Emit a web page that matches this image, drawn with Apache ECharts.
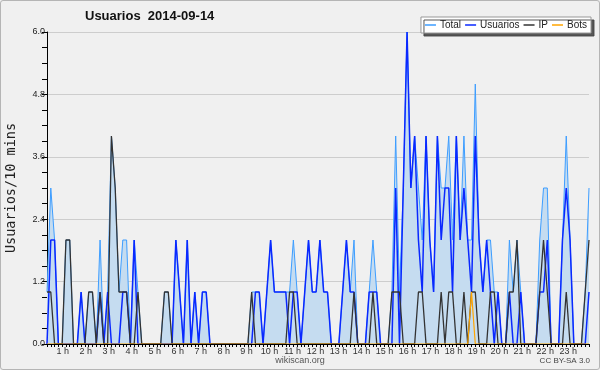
<!DOCTYPE html>
<html><head><meta charset="utf-8">
<script src="https://cdn.jsdelivr.net/npm/echarts@6/dist/echarts.min.js"></script>
<style>
html,body{margin:0;padding:0;background:#f0f0f0;}
#c{width:600px;height:370px;}
#frame{position:absolute;left:0;top:0;width:600px;height:370px;box-sizing:border-box;border:1px solid #b5b5b5;border-radius:3px;pointer-events:none;}
</style></head><body>
<div id="c"></div><div id="frame"></div>
<script>
// 10-minute slots of 2014-09-14
const times = [];
for (let h = 0; h < 24; h++) for (let m = 0; m < 60; m += 10)
  times.push(String(h).padStart(2, '0') + ':' + String(m).padStart(2, '0'));

const hourTicks = [1,2,3,4,5,6,7,8,9,10,11,12,13,14,15,16,17,18,19,20,21,22,23];

const total = [
  1,3,2,0,0,2,2,0,0,1,
  0,1,1,0,2,0,1,4,3,1,
  2,2,0,2,1,0,0,0,0,0,
  0,1,1,0,2,1,0,2,0,1,
  0,1,1,0,0,0,0,0,0,0,
  0,0,0,0,1,1,1,0,1,2,
  1,1,1,1,1,2,1,0,1,2,
  1,1,2,1,1,0,0,0,1,2,
  1,2,0,0,0,1,2,1,0,0,
  0,1,4,1,3,6,3,4,3,2,
  4,2,1,4,3,3,4,2,4,2,
  4,2,2,5,2,1,2,2,1,1,
  0,0,2,1,2,1,0,0,0,0,
  2,3,3,0,0,0,2,4,2,0,
  0,0,1,3];

const usuarios = [
  0,2,2,0,0,0,0,0,0,1,
  0,0,0,0,1,0,1,0,0,0,
  1,1,0,2,0,0,0,0,0,0,
  0,0,0,0,2,1,0,2,0,1,
  0,1,1,0,0,0,0,0,0,0,
  0,0,0,0,0,1,1,0,1,2,
  1,1,1,1,0,1,1,0,1,2,
  1,1,2,1,1,0,0,0,1,2,
  1,1,0,0,0,1,1,1,0,0,
  0,0,3,0,3,6,3,4,2,1,
  4,2,1,4,2,3,3,1,4,2,
  3,2,1,4,2,1,2,1,0,1,
  0,0,1,0,0,1,0,0,0,0,
  1,1,2,0,0,0,2,3,2,0,
  0,0,0,1];

const ip = [
  1,1,0,0,0,2,2,0,0,0,
  0,1,1,0,1,0,0,4,3,1,
  1,1,0,0,1,0,0,0,0,0,
  0,1,1,0,0,0,0,0,0,0,
  0,0,0,0,0,0,0,0,0,0,
  0,0,0,0,1,0,0,0,0,0,
  0,0,0,0,1,1,0,0,0,0,
  0,0,0,0,0,0,0,0,0,0,
  0,1,0,0,0,0,1,0,0,0,
  0,1,1,1,0,0,0,0,1,1,
  0,0,0,0,1,0,1,1,0,0,
  1,0,1,1,0,0,0,1,1,0,
  0,0,1,1,2,0,0,0,0,0,
  1,2,1,0,0,0,0,1,0,0,
  0,0,1,2];

const bots = [
  0,0,0,0,0,0,0,0,0,0,
  0,0,0,0,0,0,0,0,0,0,
  0,0,0,0,0,0,0,0,0,0,
  0,0,0,0,0,0,0,0,0,0,
  0,0,0,0,0,0,0,0,0,0,
  0,0,0,0,0,0,0,0,0,0,
  0,0,0,0,0,0,0,0,0,0,
  0,0,0,0,0,0,0,0,0,0,
  0,0,0,0,0,0,0,0,0,0,
  0,0,0,0,0,0,0,0,0,0,
  0,0,0,0,0,0,0,0,0,0,
  0,0,1,0,0,0,0,0,0,0,
  0,0,0,0,0,0,0,0,0,0,
  0,0,0,0,0,0,0,0,0,0,
  0,0,0,0];

const FONT = 'Liberation Sans';
const chart = echarts.init(document.getElementById('c'), null, {renderer: 'canvas'});
chart.setOption({
  backgroundColor: '#f0f0f0',
  animation: false,
  title: {
    text: 'Usuarios  2014-09-14', left: 85, top: 10, padding: 0,
    textStyle: {fontFamily: FONT, fontWeight: 'bold', fontSize: 13, color: '#111'}
  },
  legend: {
    right: 9, top: 17, icon: 'rect', itemWidth: 11, itemHeight: 1.5, itemGap: 4,
    padding: [3, 4, 3, 4],
    backgroundColor: '#ffffff', borderColor: '#999', borderWidth: 1,
    shadowColor: 'rgba(70,70,70,0.9)', shadowOffsetX: 3, shadowOffsetY: 3, shadowBlur: 0,
    textStyle: {fontFamily: FONT, fontSize: 10, color: '#222', padding: [0, 0, 0, -1]},
    data: ['Total', 'Usuarios', 'IP', 'Bots']
  },
  grid: {left: 47, right: 11, top: 32, bottom: 26, containLabel: false, outerBoundsMode: 'none'},
  xAxis: [{
    type: 'category', data: times, boundaryGap: false, z: 5,
    axisLine: {lineStyle: {color: '#000', width: 1}},
    axisTick: {interval: 0, length: 3, lineStyle: {color: '#000'}},
    axisLabel: {show: false}, splitLine: {show: false}
  }, {
    type: 'value', min: 0.313, max: 23.9, position: 'bottom',
    axisLine: {show: false}, axisTick: {show: false}, splitLine: {show: false},
    axisLabel: {customValues: hourTicks, formatter: v => v + ' h',
      fontFamily: FONT, fontSize: 9, color: '#333', margin: 3}
  }],
  yAxis: {
    type: 'value', min: 0, max: 6, interval: 1.2,
    name: 'Usuarios/10 mins', nameLocation: 'middle', nameGap: 29,
    nameTextStyle: {fontFamily: 'DejaVu Sans Mono', fontSize: 13.5, color: '#222'},
    axisLine: {show: true, lineStyle: {color: '#000'}},
    axisTick: {show: true, length: 5, lineStyle: {color: '#000'}},
    minorTick: {show: true, splitNumber: 4, length: 5, lineStyle: {color: '#000'}},
    minorSplitLine: {show: false},
    axisLabel: {formatter: v => v.toFixed(1), fontFamily: FONT, fontSize: 9, color: '#222', margin: 2},
    splitLine: {lineStyle: {color: '#cdcdcd', width: 1}}
  },
  series: [
    {name: 'Total', type: 'line', data: total, symbol: 'none', z: 2,
     lineStyle: {color: '#3d9dff', width: 1}, itemStyle: {color: '#3d9dff'},
     areaStyle: {color: '#c5dcf0', opacity: 1}},
    {name: 'Usuarios', type: 'line', data: usuarios, symbol: 'none', z: 3,
     lineStyle: {color: '#0a28ff', width: 1.5}, itemStyle: {color: '#0a28ff'}},
    {name: 'IP', type: 'line', data: ip, symbol: 'none', z: 3,
     lineStyle: {color: '#333333', width: 1.3}, itemStyle: {color: '#333333'}},
    {name: 'Bots', type: 'line', data: bots, symbol: 'none', z: 3,
     lineStyle: {color: '#ffa500', width: 1.2}, itemStyle: {color: '#ffa500'}}
  ],
  graphic: [
    {type: 'text', x: 300, y: 361, silent: true,
     style: {text: 'wikiscan.org', font: '9px "Liberation Sans"', fill: '#555',
       align: 'center', verticalAlign: 'middle', textAlign: 'center', textVerticalAlign: 'middle'}},
    {type: 'text', x: 590, y: 361, silent: true,
     style: {text: 'CC BY-SA 3.0', font: '8px "Liberation Sans"', fill: '#444',
       align: 'right', verticalAlign: 'middle', textAlign: 'right', textVerticalAlign: 'middle'}}
  ]
});
</script>
</body></html>
